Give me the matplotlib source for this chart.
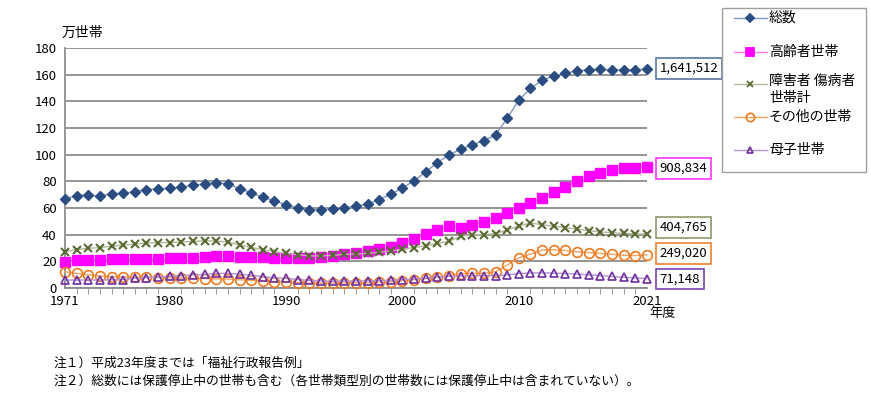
import numpy as np
import matplotlib
matplotlib.use('Agg')
import matplotlib.pyplot as plt
from matplotlib.lines import Line2D

plt.rcParams['font.family'] = ['Noto Sans CJK JP', 'DejaVu Sans']

years = list(range(1971, 2022))
# 万世帯
total = [66.9, 69.3, 69.7, 68.9, 70.8, 71.0, 72.4, 73.9, 74.5, 74.7, 75.7, 77.0, 78.2, 79.0, 78.1,
         74.6, 71.4, 68.1, 65.5, 62.4, 60.1, 58.6, 58.6, 59.5, 60.2, 61.3, 63.1, 66.3, 70.4, 75.1,
         80.5, 87.1, 94.1, 99.9, 104.2, 107.6, 110.5, 114.9, 127.4, 141.0, 149.8, 155.9, 159.2, 161.2,
         163.0, 163.7, 164.1, 163.7, 163.6, 163.7, 164.2]
elderly = [19.8, 21.0, 21.1, 21.2, 21.6, 21.5, 21.6, 21.8, 22.1, 22.3, 22.4, 22.8, 23.3, 23.8, 24.0,
           23.6, 23.3, 23.0, 22.6, 22.2, 22.3, 22.6, 23.2, 24.3, 25.4, 26.1, 27.5, 29.0, 31.0, 34.1,
           36.7, 40.3, 43.5, 46.6, 45.2, 47.3, 49.8, 52.4, 56.4, 60.4, 63.6, 67.8, 72.0, 76.1,
           80.3, 83.7, 86.5, 88.2, 89.7, 90.4, 90.9]
disabled = [27.3, 28.9, 29.9, 30.3, 31.5, 32.2, 32.9, 33.9, 34.0, 34.1, 34.6, 35.0, 35.5, 35.3, 34.6,
            32.3, 30.5, 28.7, 27.4, 26.0, 25.0, 24.2, 24.1, 24.5, 25.3, 25.5, 26.0, 26.8, 27.8, 29.1,
            30.4, 31.7, 33.6, 35.0, 38.9, 39.8, 40.1, 40.8, 43.6, 46.6, 48.8, 47.5, 46.5, 45.3,
            44.2, 43.1, 42.2, 41.5, 41.1, 40.6, 40.5]
other = [12.2, 11.0, 10.0, 9.0, 8.5, 8.3, 8.2, 8.2, 7.9, 7.7, 7.5, 7.3, 7.1, 6.9, 6.7,
         6.2, 5.7, 5.2, 4.7, 4.4, 4.0, 3.7, 3.6, 3.7, 3.8, 3.8, 3.9, 4.2, 4.6, 5.5,
         6.2, 7.2, 8.0, 9.4, 10.8, 11.1, 11.1, 12.2, 17.2, 22.7, 25.4, 28.6, 28.7, 28.2,
         27.2, 26.6, 26.0, 25.3, 24.6, 24.4, 24.9]
boshi = [6.0, 6.0, 6.0, 6.0, 6.2, 6.4, 7.3, 7.9, 8.2, 8.8, 9.3, 9.9, 10.3, 11.0, 11.0,
         10.4, 9.6, 8.6, 7.8, 7.3, 6.4, 5.7, 5.3, 5.1, 5.2, 5.3, 5.4, 5.6, 5.8, 6.3,
         6.8, 7.5, 8.2, 8.7, 9.1, 9.3, 9.3, 9.3, 9.9, 10.9, 11.3, 11.4, 11.2, 10.9,
         10.5, 9.9, 9.3, 8.7, 8.1, 7.6, 7.1]

labels = ['総数', '高齢者世帯', '障害者 傷病者\n世帯計', 'その他の世帯', '母子世帯']
last_values = ['1,641,512', '908,834', '404,765', '249,020', '71,148']
series = [total, elderly, disabled, other, boshi]

line_colors = ['#7D96BE', '#FF77FF', '#B3B89A', '#F4A463', '#B394D0']
mark_colors = ['#2A4C80', '#FF00FF', '#5A6B35', '#F07A20', '#7030A0']
box_colors = ['#5577A6', '#FF33FF', '#8A9A6A', '#F08030', '#8040B0']
markers = ['D', 's', 'x', 'o', '^']
msizes = [5, 7, 6, 7, 6]
box_y = [165, 89.7, 45.7, 26, 6.8]

fig = plt.figure(figsize=(8.71, 4.08), dpi=100)
ax = fig.add_axes([0.0746, 0.294, 0.668, 0.588])

for i in range(5):
    if markers[i] in ('o', '^'):
        ax.plot(years, series[i], color=line_colors[i], lw=1, marker=markers[i], ms=msizes[i],
                mfc='none', mec=mark_colors[i], mew=1.2, clip_on=False, zorder=3)
    elif markers[i] == 'x':
        ax.plot(years, series[i], color=line_colors[i], lw=1, marker='x', ms=msizes[i],
                mec=mark_colors[i], mew=1.5, clip_on=False, zorder=3)
    else:
        ax.plot(years, series[i], color=line_colors[i], lw=1, marker=markers[i], ms=msizes[i],
                mfc=mark_colors[i], mec=mark_colors[i], clip_on=False, zorder=3)
    ax.text(1.022, box_y[i], last_values[i], transform=ax.get_yaxis_transform(),
            fontsize=9.5, va='center', ha='left',
            bbox=dict(boxstyle='square,pad=0.3', fc='white', ec=box_colors[i], lw=1.2))

ax.set_xlim(1971, 2021)
ax.set_ylim(0, 180)
ax.set_yticks(range(0, 181, 20))
ax.set_xticks([1971, 1980, 1990, 2000, 2010, 2021])
ax.set_xticks(years, minor=True)
ax.grid(axis='y', color='#8C8C8C', lw=1.3)
ax.set_axisbelow(True)
for s in ['top', 'right']:
    ax.spines[s].set_visible(False)
ax.spines['left'].set_color('#8C8C8C')
ax.spines['bottom'].set_color('#8C8C8C')
ax.spines['left'].set_linewidth(1.3)
ax.spines['bottom'].set_linewidth(1.3)
ax.tick_params(axis='y', length=0, labelsize=9.5, pad=6)
ax.tick_params(axis='x', which='major', length=0, labelsize=9.5, pad=5)
ax.tick_params(axis='x', which='minor', length=4, color='#8C8C8C', direction='out')

fig.text(0.071, 0.92, '万世帯', fontsize=10, ha='left', va='center')
fig.text(0.746, 0.232, '年度', fontsize=9.5, ha='left', va='center')

# legend drawn by hand
lx0, lx1 = 722 / 871, 866 / 871
ly0, ly1 = 1 - 172 / 408, 1 - 8 / 408
fig.patches.append(plt.Rectangle((lx0, ly0), lx1 - lx0, ly1 - ly0, transform=fig.transFigure,
                                 fc='white', ec='#A0A0A0', lw=1))
leg_y = [18, 52, 84, 117, 150]
for i in range(5):
    yy = 1 - leg_y[i] / 408
    fig.add_artist(Line2D([734 / 871, 767 / 871], [yy, yy], color=line_colors[i], lw=1,
                          transform=fig.transFigure))
    if markers[i] in ('o', '^'):
        fig.add_artist(Line2D([750 / 871], [yy], marker=markers[i], ms=msizes[i] - 1, mfc='none',
                              mec=mark_colors[i], mew=1.2, transform=fig.transFigure))
    else:
        fig.add_artist(Line2D([750 / 871], [yy], marker=markers[i], ms=msizes[i] - 1,
                              mfc=mark_colors[i], mec=mark_colors[i], mew=1.3,
                              transform=fig.transFigure))
    if i == 2:
        fig.text(769 / 871, yy + 0.025, labels[i], fontsize=10, ha='left', va='top',
                 linespacing=1.25)
    else:
        fig.text(769 / 871, yy, labels[i], fontsize=10, ha='left', va='center')

fig.text(0.062, 1 - 363 / 408, '注１）平成23年度までは「福祉行政報告例」', fontsize=9.2, va='center')
fig.text(0.062, 1 - 381 / 408,
         '注２）総数には保護停止中の世帯も含む（各世帯類型別の世帯数には保護停止中は含まれていない）。',
         fontsize=9.2, va='center')

fig.savefig('out.png', dpi=100)
